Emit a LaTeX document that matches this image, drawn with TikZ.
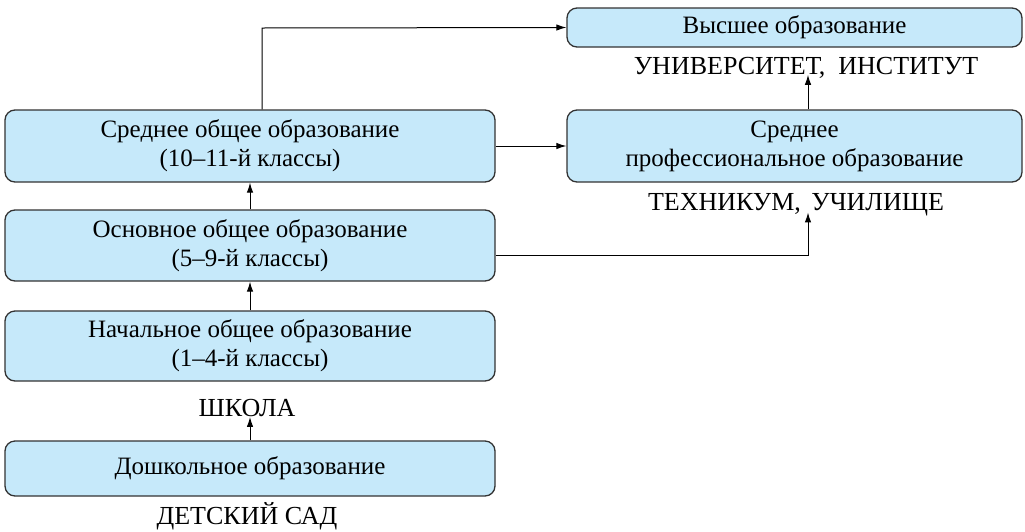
\documentclass[tikz,border=0pt]{standalone}
\usepackage{fontspec}
\setmainfont{Liberation Serif}
\usetikzlibrary{arrows.meta}
\definecolor{boxfill}{HTML}{C6E9FA}
\definecolor{boxline}{HTML}{333333}
\tikzset{
  stagebox/.style={draw=boxline, line width=1.3pt, fill=boxfill, rounded corners=10pt,
    minimum width=490pt, align=center, font=\fontsize{25}{29}\selectfont, inner sep=0pt},
  rightbox/.style={stagebox, minimum width=455pt},
  caption/.style={font=\fontsize{26}{30}\selectfont, inner sep=0pt},
  conn/.style={line width=1pt, -{Latex[length=10pt,width=6.5pt]}}
}
\begin{document}
\begin{tikzpicture}[x=1pt,y=-1pt]
\useasboundingbox (0,0) rectangle (1025,531);
\node[stagebox, minimum height=72pt] (sred) at (250,146) {Среднее общее образование\\(10–11-й классы)};
\node[stagebox, minimum height=71pt] (osn) at (250,245.5) {Основное общее образование\\(5–9-й классы)};
\node[stagebox, minimum height=70pt] (nach) at (250,346) {Начальное общее образование\\(1–4-й классы)};
\node[stagebox, minimum height=55pt] (dosh) at (250,468.5) {Дошкольное образование};
\node[caption] (shkola) at (247,408) {ШКОЛА};
\node[caption] (sad) at (247,516) {ДЕТСКИЙ САД};
\node[rightbox, minimum height=39pt] (vyssh) at (794.5,27.5) {Высшее образование};
\node[caption] (univ) at (806,68) {УНИВЕРСИТЕТ,\hspace{0.5em}ИНСТИТУТ};
\node[rightbox, minimum height=72pt] (prof) at (794.5,146) {Среднее\\профессиональное образование};
\node[caption] (tekh) at (796,205) {ТЕХНИКУМ,\hspace{0.4em}УЧИЛИЩЕ};
\coordinate (c1) at (262,28);
\coordinate (c2) at (808,255);
\draw[conn] (dosh.north) -- (dosh.north |- shkola.south);
\draw[conn] (nach.north) -- (osn.south);
\draw[conn] (osn.north) -- (sred.south);
\draw[conn] (sred.north -| c1) -- (c1) -- (vyssh.west);
\draw[conn] (sred.east) -- (prof.west);
\draw[conn] (osn.east |- c2) -- (c2) -- ([yshift=4pt]tekh.south -| c2);
\draw[conn] (prof.north -| c2) -- ([yshift=4pt]univ.south -| c2);
\end{tikzpicture}
\end{document}
